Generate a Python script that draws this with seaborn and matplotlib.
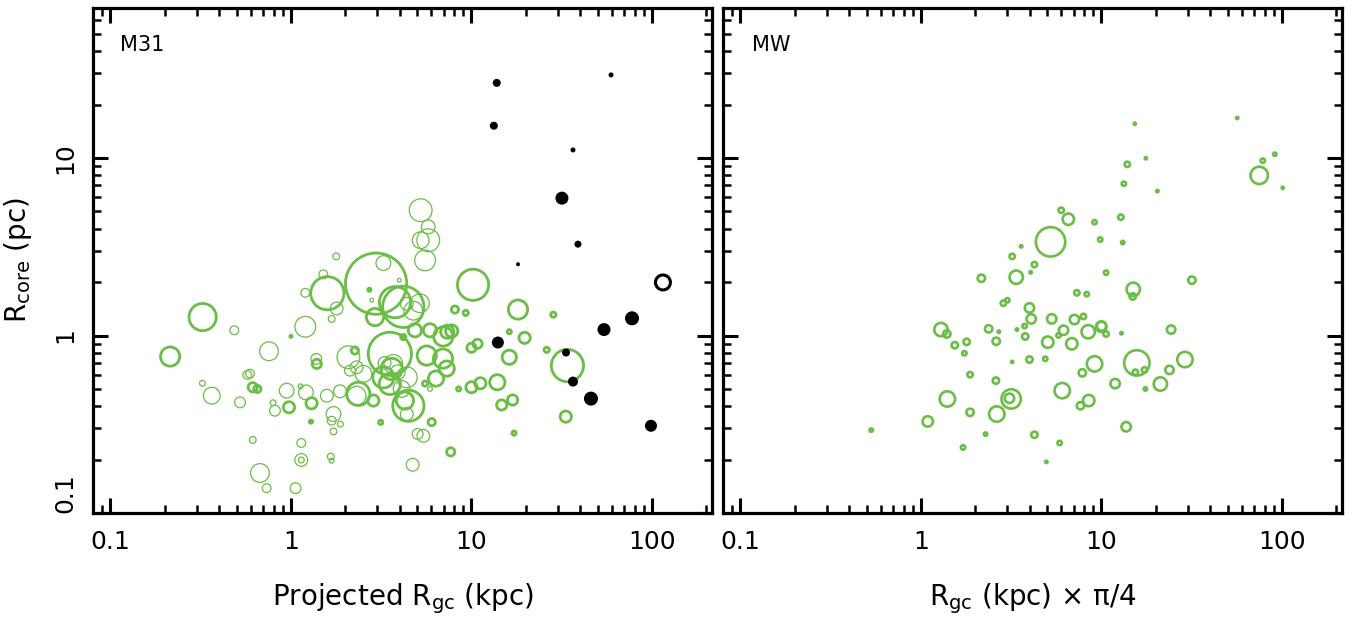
import numpy as np
import pandas as pd
import matplotlib
matplotlib.use("Agg")
import matplotlib.pyplot as plt
import seaborn as sns
from matplotlib.ticker import LogLocator, FixedLocator, NullFormatter

sns.set_theme(style="white")
plt.rcParams['font.family'] = ['DejaVu Sans']
plt.rcParams['mathtext.fontset'] = 'dejavusans'
plt.rcParams['text.color'] = 'black'
plt.rcParams['axes.labelcolor'] = 'black'
plt.rcParams['xtick.color'] = 'black'
plt.rcParams['ytick.color'] = 'black'

GREEN = '#6abd45'

# ---------------- M31: thick-outline green clusters (Rgc kpc, Rcore pc, bubble value)
m31_thick_x = [0.214, 0.324, 0.614, 0.651, 0.975, 1.30, 1.29, 1.0, 1.39, 2.26, 2.36, 2.86,
               3.53, 3.61, 3.25, 3.53, 4.47, 4.28, 3.14, 1.59, 2.72, 2.96, 3.77, 2.92, 4.19,
               4.86, 5.89, 10.2, 8.1, 9.29, 18.1, 28.4, 16.2, 19.7, 7.34, 7.77, 6.98, 10.0,
               10.8, 16.2, 26.1, 34.0, 13.9, 10.0, 11.2, 8.49, 14.7, 16.9, 33.3, 6.02, 17.2,
               7.67, 5.65, 6.95, 7.29, 6.36, 5.53, 4.19]
m31_thick_y = [0.761, 1.27, 0.511, 0.500, 0.394, 0.415, 0.327, 0.99, 0.692, 0.823, 0.469, 0.430,
               0.788, 0.648, 0.581, 0.533, 0.402, 0.430, 0.324, 1.73, 1.81, 1.96, 1.54, 1.27, 1.45,
               1.07, 1.07, 1.93, 1.40, 1.34, 1.40, 1.31, 1.05, 0.97, 1.05, 1.06, 0.987, 0.853,
               0.898, 0.754, 0.830, 0.677, 0.545, 0.511, 0.538, 0.500, 0.406, 0.433, 0.349, 0.325,
               0.282, 0.221, 0.771, 0.741, 0.651, 0.572, 0.536, 0.98]
m31_thick_w = [22, 30, 12, 10, 14, 14, 6, 3, 12, 10, 26, 14,
               46, 24, 24, 24, 34, 20, 7, 36, 6, 64, 34, 20, 44,
               16, 16, 34, 10, 8, 22, 8, 7, 14, 16, 15, 22, 12,
               12, 17, 8, 35, 18, 14, 14, 7, 13, 13, 14, 10, 7,
               11, 22, 22, 18, 18, 8, 8]

# ---------------- M31: thin-outline green clusters
m31_thin_x = [0.485, 0.323, 0.364, 0.522, 0.573, 0.755, 0.795, 0.815, 0.947, 1.13, 1.21, 1.58,
              1.72, 1.68, 1.88, 1.72, 1.87, 0.614, 1.14, 1.14, 1.14, 1.66, 1.68, 0.673, 0.733,
              1.06, 4.72, 1.20, 1.38, 2.08, 2.31, 1.78, 1.20, 1.51, 1.79, 1.68, 3.25, 3.98,
              2.80, 5.23, 5.76, 5.23, 5.76, 5.53, 4.76, 4.38, 4.38, 5.03, 5.41, 2.12, 0.593,
              3.69, 2.52, 2.31, 4.38, 5.18, 5.89, 3.9, 3.3, 4.1]
m31_thin_y = [1.07, 0.538, 0.458, 0.420, 0.600, 0.815, 0.418, 0.377, 0.489, 0.517, 0.478, 0.458,
              0.361, 0.331, 0.317, 0.288, 0.485, 0.258, 0.248, 0.199, 0.199, 0.208, 0.197, 0.168,
              0.138, 0.138, 0.187, 1.12, 0.738, 0.754, 0.662, 2.79, 1.74, 2.21, 1.42, 1.24, 2.56,
              2.05, 1.58, 5.08, 4.09, 3.44, 3.44, 2.65, 1.38, 0.581, 0.361, 0.279, 0.272, 0.634,
              0.610, 0.692, 0.608, 0.458, 1.51, 1.52, 0.500, 0.62, 0.70, 0.50]
m31_thin_w = [10, 7, 18, 12, 10, 20, 7, 12, 16, 6, 16, 14,
              16, 10, 7, 8, 14, 8, 10, 14, 7, 8, 6, 20, 10,
              12, 14, 22, 12, 24, 14, 8, 10, 10, 14, 8, 16, 5,
              5, 24, 15, 18, 24, 22, 20, 22, 14, 12, 14, 12, 10,
              20, 18, 20, 14, 20, 6, 16, 14, 18]

# ---------------- M31: outer clusters (black)
m31_outer_x = [13.8, 59.3, 13.3, 36.5, 31.7, 38.9, 18.1, 77.5, 54.2, 14.0, 33.4, 36.5, 45.9, 98.7]
m31_outer_y = [26.5, 29.4, 15.2, 11.1, 5.94, 3.27, 2.52, 1.25, 1.08, 0.913, 0.802, 0.55, 0.441, 0.31]
m31_outer_w = [8, 5, 8, 5, 13, 7, 4, 14, 13, 12, 8, 10, 14, 12]
m31_open_x = [115]
m31_open_y = [1.99]
m31_open_w = [18]

# ---------------- MW clusters (Rgc * pi/4, Rcore)
mw_x = [5.98, 6.55, 9.15, 9.84, 5.22, 3.59, 3.20, 4.25, 4.05, 3.37, 2.16, 10.6, 7.30, 8.29,
        2.86, 3.01, 3.99, 4.08, 5.30, 7.08, 7.94, 10.0, 10.6, 8.44, 6.16, 5.78, 6.85, 5.04,
        3.75, 3.40, 3.78, 1.29, 1.39, 1.54, 1.79, 1.74, 2.37, 2.70, 2.61, 3.20, 3.99, 4.88,
        9.15, 7.83, 11.9, 6.06, 8.50, 7.65, 1.87, 2.60, 1.40, 3.16, 3.09, 1.87, 2.63, 1.09,
        0.530, 2.28, 4.25, 5.86, 1.71, 4.95, 12.8, 15.3, 56.5, 17.6, 13.9, 91.2, 78.3, 74.8,
        101, 13.3, 20.4, 13.1, 31.7, 15.0, 14.9, 9.96, 12.9, 24.3, 15.7, 15.4, 17.3, 29.0,
        23.8, 21.2, 17.5, 13.7]
mw_y = [5.08, 4.52, 4.35, 3.47, 3.37, 3.18, 2.79, 2.51, 2.27, 2.13, 2.10, 2.26, 1.74, 1.71,
        1.52, 1.58, 1.43, 1.24, 1.24, 1.23, 1.28, 1.13, 1.02, 1.05, 1.07, 1.0, 0.898, 0.917,
        1.13, 1.08, 0.987, 1.08, 1.02, 0.882, 0.921, 0.794, 1.09, 1.05, 0.928, 0.710, 0.732, 0.739,
        0.692, 0.616, 0.536, 0.489, 0.430, 0.402, 0.602, 0.557, 0.439, 0.439, 0.443, 0.369, 0.361, 0.328,
        0.293, 0.278, 0.276, 0.248, 0.234, 0.194, 4.64, 15.6, 16.8, 9.96, 9.21, 10.5, 9.66, 7.98,
        6.79, 7.16, 6.51, 3.34, 2.05, 1.82, 1.66, 1.12, 1.03, 1.08, 0.701, 0.621, 0.640, 0.732,
        0.640, 0.533, 0.500, 0.306]
mw_w = [8, 14, 7, 7, 32, 5, 8, 8, 5, 16, 10, 7, 8, 7,
        8, 7, 12, 12, 12, 12, 8, 12, 8, 16, 12, 7, 14, 14,
        7, 5, 9, 16, 10, 9, 9, 7, 10, 5, 10, 3, 9, 7,
        18, 10, 12, 18, 14, 10, 8, 9, 18, 22, 12, 10, 18, 13,
        6, 6, 9, 7, 7, 5, 8, 4, 4, 4, 8, 6, 7, 20,
        4, 7, 5, 6, 10, 16, 9, 13, 5, 11, 28, 8, 8, 18,
        11, 16, 6, 12]

XTICKS = [0.1, 1, 10, 100]
XTICKLABELS = ['0.1', '1', '10', '100']
YTICKS = [0.1, 1, 10]
YTICKLABELS = ['0.1', '1', '10']


def area(w, lw):
    d = np.maximum(np.asarray(w, float) * 0.72 - lw, 1.6)
    return d ** 2


W, H = 1365, 623
fig = plt.figure(figsize=(W / 100, H / 100), dpi=100)
ax1 = fig.add_axes([93 / W, 1 - 513 / H, 619 / W, 505 / H])
ax2 = fig.add_axes([723 / W, 1 - 513 / H, 619 / W, 505 / H])

lw_thick, lw_thin, lw_mw = 2.0, 0.9, 1.9

sns.scatterplot(x=m31_thin_x, y=m31_thin_y, ax=ax1, s=area(m31_thin_w, lw_thin),
                color=GREEN, facecolor='none', edgecolor=GREEN, linewidth=lw_thin, legend=False)
sns.scatterplot(x=m31_thick_x, y=m31_thick_y, ax=ax1, s=area(m31_thick_w, lw_thick),
                color=GREEN, facecolor='none', edgecolor=GREEN, linewidth=lw_thick, legend=False)
sns.scatterplot(x=m31_outer_x, y=m31_outer_y, ax=ax1, s=(np.asarray(m31_outer_w) * 0.72) ** 2,
                color='black', linewidth=0, legend=False)
sns.scatterplot(x=m31_open_x, y=m31_open_y, ax=ax1, s=area(m31_open_w, 2.2),
                color='black', facecolor='none', edgecolor='black', linewidth=2.2, legend=False)

sns.scatterplot(x=mw_x, y=mw_y, ax=ax2, s=area(mw_w, lw_mw),
                color=GREEN, facecolor='none', edgecolor=GREEN, linewidth=lw_mw, legend=False)

for ax in (ax1, ax2):
    ax.set_xscale('log')
    ax.set_yscale('log')
    ax.set_xlim(0.08, 215)
    ax.set_ylim(0.1, 70)
    for sp in ax.spines.values():
        sp.set_linewidth(2.3)
        sp.set_color('black')
        sp.set_visible(True)
    ax.xaxis.set_major_locator(FixedLocator(XTICKS))
    ax.yaxis.set_major_locator(FixedLocator(YTICKS))
    ax.xaxis.set_minor_locator(LogLocator(base=10, subs=np.arange(2, 10), numticks=20))
    ax.yaxis.set_minor_locator(LogLocator(base=10, subs=np.arange(2, 10), numticks=20))
    ax.xaxis.set_minor_formatter(NullFormatter())
    ax.yaxis.set_minor_formatter(NullFormatter())
    ax.tick_params(which='both', direction='in', top=True, right=True, bottom=True, left=True,
                   color='black', labelcolor='black')
    ax.tick_params(which='major', length=11, width=2.2)
    ax.tick_params(which='minor', length=6, width=1.8)
    ax.tick_params(axis='x', which='major', pad=12, labelsize=18)
    ax.tick_params(axis='y', which='major', pad=11, labelsize=18)
    ax.set_xticks(XTICKS)
    ax.set_xticklabels(XTICKLABELS)
    ax.grid(False)
    ax.set_facecolor('white')

ax1.set_yticks(YTICKS)
ax1.set_yticklabels(YTICKLABELS, rotation=90, va='center')
ax1.get_yticklabels()[0].set_va('bottom')
ax2.set_yticks(YTICKS)
ax2.set_yticklabels([])

ax1.set_xlabel(r'Projected R$_{\rm gc}$ (kpc)', fontsize=20, labelpad=20, color='black')
ax2.set_xlabel(r'R$_{\rm gc}$ (kpc) × π/4', fontsize=20, labelpad=20, color='black')
ax1.set_ylabel(r'R$_{\rm core}$ (pc)', fontsize=20, labelpad=14, color='black')

ax1.text(0.044, 0.927, 'M31', transform=ax1.transAxes, fontsize=15, va='center', ha='left',
         color='black')
ax2.text(0.047, 0.927, 'MW', transform=ax2.transAxes, fontsize=15, va='center', ha='left',
         color='black')

fig.savefig('out.png', dpi=100, facecolor='white')
